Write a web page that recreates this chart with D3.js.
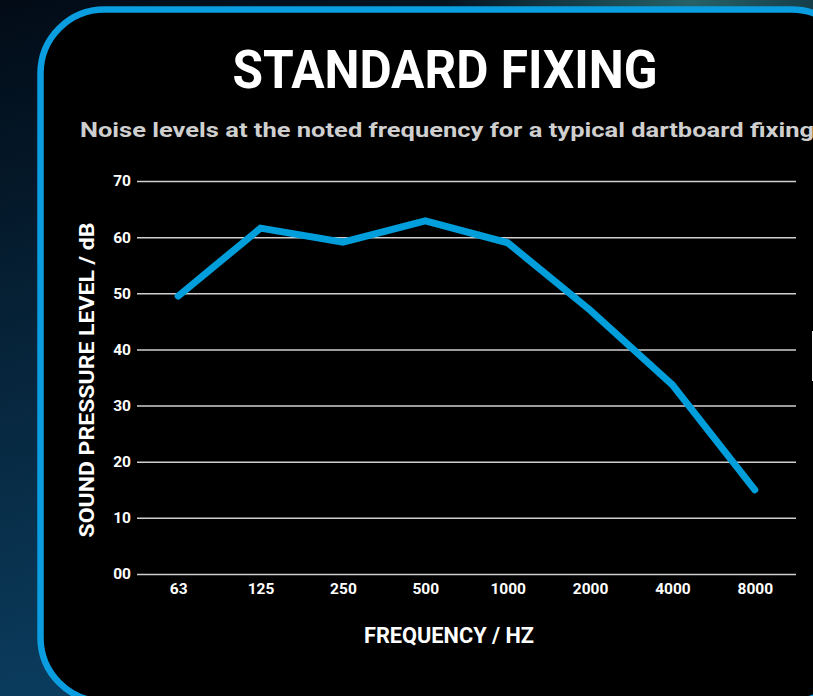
<!DOCTYPE html>
<html>
    <head>
        <style>
            body { margin: 0; background: #03111e; overflow: hidden; }
            text { font-family: Roboto, "DejaVu Sans", sans-serif; font-weight: bold; }
        </style>
    </head>
    <body>
    <div id="graph_div"></div>
    <script src="https://d3js.org/d3.v7.min.js"></script>
    <script>
      // data
      var frequencies = ["63", "125", "250", "500", "1000", "2000", "4000", "8000"]
      var levels = [49.5, 61.6, 59.1, 62.9, 59.0, 47.0, 33.7, 15.0]
      var yTicks = [0, 10, 20, 30, 40, 50, 60, 70]
      var yTickLabels = ["00", "10", "20", "30", "40", "50", "60", "70"]

      var W = 813, H = 696
      var margin = {top: 181, right: 17, bottom: 122, left: 137},
          width = W - margin.left - margin.right,
          height = H - margin.top - margin.bottom;

      var root = d3.select("#graph_div")
        .append("svg")
          .attr("width", W)
          .attr("height", H)

      // background
      var defs = root.append("defs")
      var bg = defs.append("linearGradient")
        .attr("id", "bg").attr("x1", 0).attr("y1", 0).attr("x2", 0.3).attr("y2", 1)
      bg.append("stop").attr("offset", "0%").attr("stop-color", "#020b16")
      bg.append("stop").attr("offset", "55%").attr("stop-color", "#072840")
      bg.append("stop").attr("offset", "100%").attr("stop-color", "#0b3f62")
      var glow = defs.append("radialGradient")
        .attr("id", "glow").attr("cx", 0.85).attr("cy", 0).attr("r", 0.3)
      glow.append("stop").attr("offset", "0%").attr("stop-color", "#2a6a6e").attr("stop-opacity", 0.9)
      glow.append("stop").attr("offset", "100%").attr("stop-color", "#2a6a6e").attr("stop-opacity", 0)

      root.append("rect").attr("width", W).attr("height", H).attr("fill", "url(#bg)")
      root.append("rect").attr("width", W).attr("height", H).attr("fill", "url(#glow)")

      // the card
      root.append("rect")
        .attr("x", 40.5).attr("y", 9.5)
        .attr("width", 815).attr("height", 692)
        .attr("rx", 64).attr("ry", 64)
        .attr("fill", "#000")
        .attr("stroke", "#0a9de0")
        .attr("stroke-width", 6.5)

      // bit of white at the right edge
      root.append("rect")
        .attr("x", 812).attr("y", 331).attr("width", 2).attr("height", 50)
        .attr("fill", "#fff")

      // title
      root.append("text")
        .attr("x", 445).attr("y", 88)
        .attr("text-anchor", "middle")
        .attr("font-size", "53px")
        .attr("fill", "#fff")
        .attr("textLength", 425).attr("lengthAdjust", "spacingAndGlyphs")
        .text("STANDARD FIXING")

      root.append("text")
        .attr("x", 80).attr("y", 137)
        .attr("font-size", "20px")
        .attr("fill", "#cfcfcf")
        .attr("textLength", 734).attr("lengthAdjust", "spacingAndGlyphs")
        .text("Noise levels at the noted frequency for a typical dartboard fixing")

      var svg = root.append("g")
          .attr("transform", "translate(" + margin.left + "," + margin.top + ")");

      var x = d3.scalePoint()
        .domain(frequencies)
        .range([0, width])
        .padding(0.5)

      var y = d3.scaleLinear()
        .domain([0, 70])
        .range([height, 0])

      // Y axis with grid lines
      var yAxis = svg.append("g")
        .call(d3.axisLeft(y)
          .tickValues(yTicks)
          .tickSize(-width)
          .tickPadding(6)
          .tickFormat(function(d, i) { return yTickLabels[i] }))
      yAxis.select(".domain").remove()
      yAxis.selectAll("line")
        .attr("stroke", "#cfcfcf")
        .attr("stroke-width", 1.5)
      yAxis.selectAll("text")
        .attr("fill", "#fff")
        .attr("font-size", "15.5px")
        .attr("font-family", null)

      // X axis
      var xAxis = svg.append("g")
        .attr("transform", "translate(0," + height + ")")
        .call(d3.axisBottom(x).tickSize(0).tickPadding(9))
      xAxis.select(".domain").remove()
      xAxis.selectAll("text")
        .attr("fill", "#fff")
        .attr("font-size", "15.5px")
        .attr("font-family", null)

      // the line
      var line = d3.line()
        .x(function(d, i) { return x(frequencies[i]) })
        .y(function(d) { return y(d) })
      svg.append("path")
        .datum(levels)
        .attr("d", line)
        .attr("fill", "none")
        .attr("stroke", "#009edb")
        .attr("stroke-width", 7)
        .attr("stroke-linecap", "round")
        .attr("stroke-linejoin", "miter")

      // axis titles
      root.append("text")
        .attr("text-anchor", "middle")
        .attr("transform", "translate(94,380) rotate(-90)")
        .attr("font-size", "21px")
        .attr("fill", "#fff")
        .attr("textLength", 315).attr("lengthAdjust", "spacingAndGlyphs")
        .text("SOUND PRESSURE LEVEL / dB")

      root.append("text")
        .attr("text-anchor", "middle")
        .attr("x", 449).attr("y", 643)
        .attr("font-size", "22px")
        .attr("fill", "#fff")
        .attr("textLength", 170).attr("lengthAdjust", "spacingAndGlyphs")
        .text("FREQUENCY / HZ")
    </script>
    </body>
</html>
